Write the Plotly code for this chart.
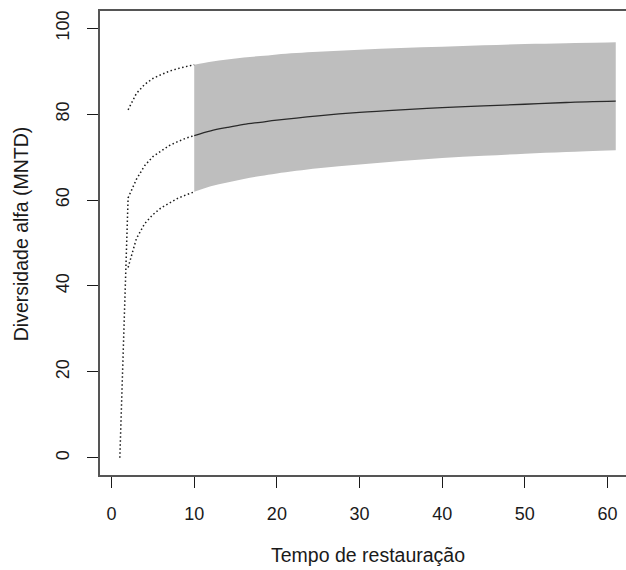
import plotly.graph_objects as go

# Restoration time (years) and predicted alpha diversity (MNTD)
x_extrap = [1, 2, 3, 4, 5, 6, 7, 8, 9, 10]
fit_extrap = [0.0, 60.5, 64.8, 68.0, 70.1, 71.5, 72.7, 73.6, 74.4, 75.0]
x_extrap_ci = [2, 3, 4, 5, 6, 7, 8, 9, 10]
upper_extrap = [81.0, 84.8, 86.9, 88.3, 89.2, 90.0, 90.6, 91.1, 91.5]
lower_extrap = [44.3, 51.0, 54.5, 56.6, 58.2, 59.4, 60.4, 61.2, 61.9]

x_obs = [10, 12, 14, 16, 18, 20, 25, 30, 35, 40, 45, 50, 55, 61]
fit_obs = [75.0, 76.1, 76.9, 77.6, 78.1, 78.6, 79.6, 80.4, 81.0, 81.5, 81.9, 82.3, 82.7, 83.0]
upper_obs = [91.5, 92.2, 92.7, 93.2, 93.5, 93.9, 94.5, 95.0, 95.4, 95.7, 96.0, 96.3, 96.5, 96.7]
lower_obs = [61.9, 63.2, 64.1, 64.9, 65.6, 66.2, 67.4, 68.3, 69.1, 69.8, 70.3, 70.8, 71.2, 71.6]

x_ticks = [0, 10, 20, 30, 40, 50, 60]
y_ticks = [0, 20, 40, 60, 80, 100]

FONT = "Liberation Sans, Arial, sans-serif"
TEXT = "#1a1a1a"
FRAME = "#555555"
FS = 18
FS_TITLE = 19.5

fig = go.Figure()

# confidence band over the observed range
fig.add_trace(go.Scatter(x=x_obs, y=lower_obs, mode="lines", line=dict(width=0, shape="spline"),
                         hoverinfo="skip", showlegend=False))
fig.add_trace(go.Scatter(x=x_obs, y=upper_obs, mode="lines", line=dict(width=0, shape="spline"),
                         fill="tonexty", fillcolor="#bebebe", hoverinfo="skip", showlegend=False))

# fitted curve
fig.add_trace(go.Scatter(x=x_obs, y=fit_obs, mode="lines",
                         line=dict(color="#2a2a2a", width=1.3, shape="spline"), showlegend=False))

# extrapolation before the observed range (dotted)
dot = dict(color="#1a1a1a", width=1.5, dash="1.5px,2.5px")
fig.add_trace(go.Scatter(x=x_extrap, y=fit_extrap, mode="lines", line=dot, showlegend=False))
fig.add_trace(go.Scatter(x=x_extrap_ci, y=upper_extrap, mode="lines", line=dot, showlegend=False))
fig.add_trace(go.Scatter(x=x_extrap_ci, y=lower_extrap, mode="lines", line=dot, showlegend=False))

fig.update_layout(
    width=626, height=570,
    margin=dict(l=100, r=0, t=11, b=95),
    paper_bgcolor="white", plot_bgcolor="white",
    font=dict(family=FONT, size=FS, color=TEXT),
    showlegend=False,
    annotations=[
        dict(text="Tempo de restauração", xref="paper", yref="paper",
             x=0.5095, y=-0.1724, xanchor="center", yanchor="middle",
             showarrow=False, font=dict(size=FS_TITLE, color=TEXT)),
        dict(text="Diversidade alfa (MNTD)", xref="paper", yref="paper",
             x=-0.1511, y=0.52, xanchor="center", yanchor="middle", textangle=-90,
             showarrow=False, font=dict(size=FS_TITLE, color=TEXT)),
    ],
)
fig.update_xaxes(
    range=[-1.4, 62.24], tickvals=x_ticks, ticks="outside", ticklen=11, tickwidth=1.2,
    tickcolor=TEXT, showgrid=False, zeroline=False, showline=True, mirror=True,
    linecolor=FRAME, linewidth=1.5, ticklabelstandoff=11,
)
fig.update_yaxes(
    range=[-4, 104], tickvals=y_ticks, ticks="outside", ticklen=11, tickwidth=1.2,
    tickcolor=TEXT, showgrid=False, zeroline=False, showline=True, mirror=False,
    linecolor=FRAME, linewidth=1.5, tickangle=-90, ticklabelstandoff=11,
)

fig.write_html("out.html")
